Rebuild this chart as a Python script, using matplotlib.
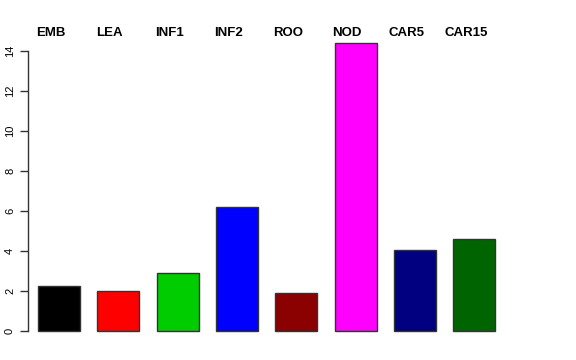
import numpy as np
import matplotlib
matplotlib.use('Agg')
import matplotlib.pyplot as plt

labels = ['EMB', 'LEA', 'INF1', 'INF2', 'ROO', 'NOD', 'CAR5', 'CAR15']
values = [2.25, 2.0, 2.9, 6.2, 1.9, 14.4, 4.05, 4.6]
colors = ['#000000', '#FF0000', '#00CD00', '#0000FF', '#8B0000', '#FF00FF', '#000080', '#006400']

plt.rcParams['font.family'] = ['Liberation Sans', 'DejaVu Sans']

fig = plt.figure(figsize=(5.76, 3.6), dpi=100)
# plot region placed like R's barplot
ax = fig.add_axes([28.3 / 576, 17.5 / 360, 485 / 576, 311 / 360])

lefts = 0.2 + 1.223 * np.arange(len(values))
ax.bar(lefts, values, width=0.866, align='edge', color=colors,
       edgecolor='#333333', linewidth=1.0)

ax.set_xlim(0, 10)
ax.set_ylim(-0.576, 14.976)

for s in ['top', 'right', 'bottom']:
    ax.spines[s].set_visible(False)
ax.spines['left'].set_bounds(0, 14)
ax.spines['left'].set_color('#333333')
ax.spines['left'].set_linewidth(1.0)
ax.set_xticks([])
ax.set_yticks(np.arange(0, 15, 2))
ax.tick_params(axis='y', length=5.5, width=1.0, color='#333333', pad=4, labelsize=8)
for t in ax.get_yticklabels():
    t.set_rotation(90)
    t.set_va('center')

# group names above the bars
for x, lab in zip(lefts, labels):
    ax.text(x + 0.26, 0.9865, lab, transform=ax.get_xaxis_transform(),
            ha='center', va='baseline', fontsize=9.5, fontweight='bold')

fig.savefig('out.png', dpi=100)
